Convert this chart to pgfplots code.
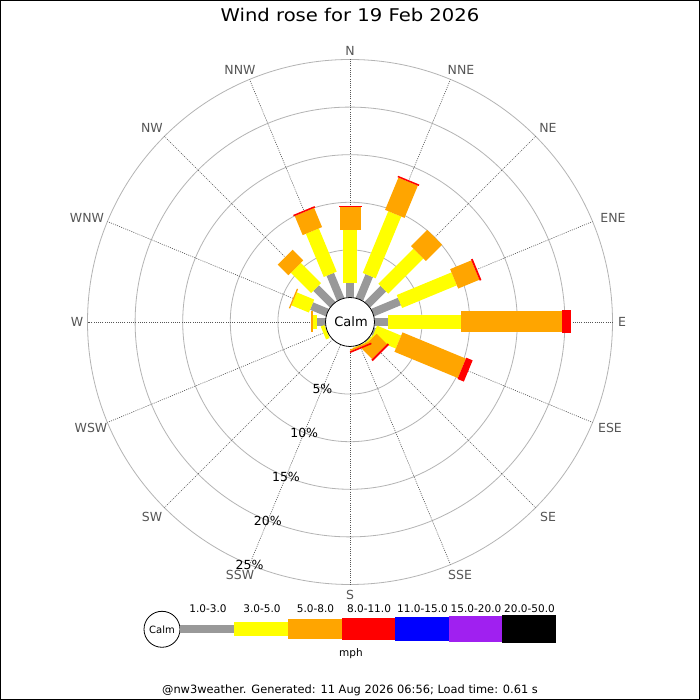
\documentclass[border=0pt]{standalone}
\usepackage{pgfplots}
\pgfplotsset{compat=1.18}
\usepgfplotslibrary{polar}
\usepackage{fontspec}
\setmainfont{DejaVu Sans}
\newfontfamily\titlefont{DejaVu Sans}[FakeStretch=1.12]
\definecolor{wgray}{HTML}{999999}
\definecolor{wyellow}{HTML}{FFFF00}
\definecolor{worange}{HTML}{FFA500}
\definecolor{wred}{HTML}{FF0000}
\definecolor{wblue}{HTML}{0000FF}
\definecolor{wpurple}{HTML}{A020F0}
\definecolor{ringc}{HTML}{B4B4B4}
\definecolor{spokec}{HTML}{555555}
\definecolor{labc}{HTML}{555555}
% one radial segment of a bar: style, compass direction (deg), start %, end %
\newcommand\seg[4]{\addplot[#1] coordinates {(#2,#3) (#2,#4)};}
\begin{document}
\begin{tikzpicture}[x=1pt,y=1pt]
\useasboundingbox (0,0) rectangle (700,700);
\fill[white] (0,0) rectangle (700,700);
% grid: rings every 5 % and 16 spokes
\begin{scope}[shift={(350,378)}]
\foreach \r in {72.1,119.7,167.3,214.9,262.5}
  \draw[ringc, line width=0.8pt] (0,0) circle[radius=\r];
\foreach \a in {0,22.5,...,337.5}
  \draw[spokec, line width=0.6pt, dash pattern=on 1pt off 1.2pt] (\a:24.5) -- (\a:262.5);
\end{scope}
\begin{polaraxis}[
  at={(350pt,378pt)}, anchor=center,
  scale only axis, width=525pt, height=525pt,
  xmin=0, xmax=360, ymin=0, ymax=27.574,
  x filter/.expression={mod(450-x,360)},
  y filter/.expression={y+2.574},
  hide axis,
  clip=false,
  gseg/.style={draw=wgray, line width=8pt, line cap=butt},
  yseg/.style={draw=wyellow, line width=14pt, line cap=butt},
  oseg/.style={draw=worange, line width=21pt, line cap=butt},
  rseg/.style={draw=wred, line width=23pt, line cap=butt},
]
% gray 1.0-3.0 mph
\seg{gseg}{0}{0}{1.49}
\seg{gseg}{22.5}{0}{2.70}
\seg{gseg}{45}{0}{2.37}
\seg{gseg}{67.5}{0}{3.05}
\seg{gseg}{90}{0}{1.45}
\seg{gseg}{112.5}{0}{0.20}
\seg{gseg}{135}{0}{0.10}
\seg{gseg}{157.5}{0}{0.05}
\seg{gseg}{247.5}{0}{0.05}
\seg{gseg}{270}{0}{0.92}
\seg{gseg}{292.5}{0}{1.80}
\seg{gseg}{315}{0}{2.47}
\seg{gseg}{337.5}{0}{2.85}
% yellow 3.0-5.0 mph
\seg{yseg}{0}{1.49}{7.09}
\seg{yseg}{22.5}{2.70}{9.72}
\seg{yseg}{45}{2.37}{7.60}
\seg{yseg}{67.5}{3.05}{9.27}
\seg{yseg}{90}{1.45}{9.09}
\seg{yseg}{112.5}{0.20}{2.94}
\seg{yseg}{135}{0.10}{0.28}
\seg{yseg}{157.5}{0.05}{0.10}
\seg{yseg}{247.5}{0.05}{0.45}
\seg{yseg}{270}{0.92}{1.35}
\seg{yseg}{292.5}{1.80}{3.78}
\seg{yseg}{315}{2.47}{5.48}
\seg{yseg}{337.5}{2.85}{7.76}
% orange 5.0-8.0 mph
\seg{oseg}{0}{7.09}{9.47}
\seg{oseg}{22.5}{9.72}{13.39}
\seg{oseg}{45}{7.60}{10.00}
\seg{oseg}{67.5}{9.27}{11.68}
\seg{oseg}{90}{9.09}{19.66}
\seg{oseg}{112.5}{2.94}{10.15}
\seg{oseg}{135}{0.28}{1.81}
\seg{oseg}{157.5}{0.10}{0.28}
\seg{oseg}{270}{1.35}{1.52}
\seg{oseg}{292.5}{3.78}{3.92}
\seg{oseg}{315}{5.48}{7.06}
\seg{oseg}{337.5}{7.76}{9.94}
% red 8.0-11.0 mph
\seg{rseg}{0}{9.47}{9.60}
\seg{rseg}{22.5}{13.39}{13.55}
\seg{rseg}{67.5}{11.68}{11.87}
\seg{rseg}{90}{19.66}{20.64}
\seg{rseg}{112.5}{10.15}{10.87}
\seg{rseg}{135}{1.81}{2.02}
\seg{rseg}{157.5}{0.28}{0.45}
\seg{rseg}{337.5}{9.94}{10.10}
\end{polaraxis}
% calm circle
\draw[black, line width=0.8pt, fill=white] (350,378) circle[radius=24.5];
\node at (351,378) {\fontsize{13}{13}\selectfont Calm};
% percentage labels along SSW
\begin{scope}[shift={(350,378)}]
\node at (-112.5:72.1) {\fontsize{12.5}{12.5}\selectfont 5\%};
\node at (-112.5:119.7) {\fontsize{12.5}{12.5}\selectfont 10\%};
\node at (-112.5:167.3) {\fontsize{12.5}{12.5}\selectfont 15\%};
\node at (-112.5:214.9) {\fontsize{12.5}{12.5}\selectfont 20\%};
\node at (-112.5:262.5) {\fontsize{12.5}{12.5}\selectfont 25\%};
\end{scope}
% direction labels
\begin{scope}[every node/.style={text=labc, font=\fontsize{12.5}{12.5}\selectfont, inner sep=0pt}]
\node at (350,649.5) {N};
\node at (461,630.5) {NNE};
\node at (548,572) {NE};
\node at (613,482) {ENE};
\node at (622,378) {E};
\node at (610,272) {ESE};
\node at (548,183) {SE};
\node at (460,125) {SSE};
\node at (350,105) {S};
\node at (240,125) {SSW};
\node at (152,183) {SW};
\node at (91,272) {WSW};
\node at (77,378) {W};
\node at (87,482) {WNW};
\node at (152,572) {NW};
\node at (240,630.5) {NNW};
\end{scope}
% title
\node[anchor=base] at (350,678.3) {\titlefont\fontsize{17.5}{17.5}\selectfont Wind rose for 19 Feb 2026};
% legend
\draw[black, line width=0.8pt, fill=white] (162,70.7) circle[radius=18];
\node at (162,70.7) {\fontsize{10}{10}\selectfont Calm};
\fill[wgray] (180,67.3) rectangle (234.3,75);
\fill[wyellow] (234.3,64) rectangle (287.7,78.3);
\fill[worange] (287.7,61) rectangle (341.7,81);
\fill[wred] (341.7,60) rectangle (395,82.3);
\fill[wblue] (395,59) rectangle (448.7,83.3);
\fill[wpurple] (448.7,57.7) rectangle (502,84.3);
\fill[black] (502,56.7) rectangle (556,85);
\begin{scope}[every node/.style={font=\fontsize{10.5}{10.5}\selectfont, inner sep=0pt}]
\node at (208,91.7) {1.0-3.0};
\node at (262,91.7) {3.0-5.0};
\node at (315.5,91.7) {5.0-8.0};
\node at (369,91.7) {8.0-11.0};
\node at (422.5,91.7) {11.0-15.0};
\node at (476,91.7) {15.0-20.0};
\node at (529.5,91.7) {20.0-50.0};
\node[anchor=base] at (351,43.3) {mph};
\end{scope}
% footer
\node at (350,10) {\fontsize{11.4}{11.4}\selectfont @nw3weather. Generated: 11 Aug 2026 06:56; Load time: 0.61 s};
% frame
\draw[black, line width=1pt] (0.5,0.5) rectangle (699.5,699.5);
\end{tikzpicture}
\end{document}
